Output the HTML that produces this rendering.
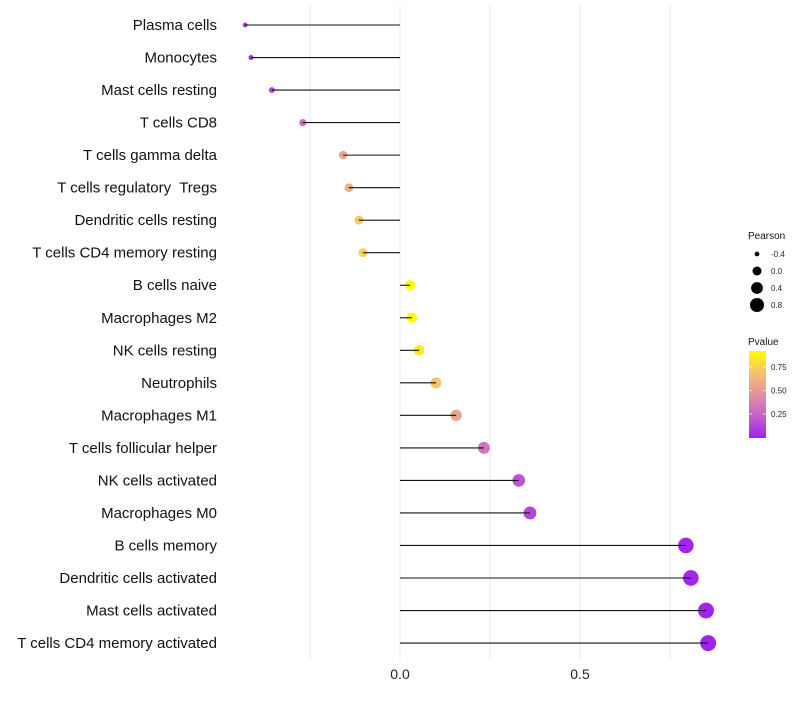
<!DOCTYPE html>
<html><head><meta charset="utf-8"><style>
body{margin:0;background:#fff;font-family:"Liberation Sans",sans-serif}
text{white-space:pre}
</style></head><body>
<svg id="c" width="800" height="700" xmlns="http://www.w3.org/2000/svg"></svg>
<script>
const categories=["Plasma cells","Monocytes","Mast cells resting","T cells CD8","T cells gamma delta","T cells regulatory  Tregs","Dendritic cells resting","T cells CD4 memory resting","B cells naive","Macrophages M2","NK cells resting","Neutrophils","Macrophages M1","T cells follicular helper","NK cells activated","Macrophages M0","B cells memory","Dendritic cells activated","Mast cells activated","T cells CD4 memory activated"];
const pearson=[-0.43,-0.414,-0.356,-0.27,-0.158,-0.142,-0.114,-0.103,0.028,0.033,0.053,0.1,0.156,0.233,0.33,0.361,0.794,0.808,0.85,0.856];
const pvalue=[0.04,0.06,0.12,0.3,0.55,0.6,0.72,0.75,0.91,0.9,0.84,0.7,0.55,0.32,0.18,0.13,0.02,0.02,0.01,0.01];
const xTicks=[0,0.5];
const xGrid=[-0.25,0.25,0.75];
const sizeLegend=[-0.4,0.0,0.4,0.8];
const colorTicks=[0.75,0.5,0.25];
const NS="http://www.w3.org/2000/svg";
const svg=document.getElementById('c');
const X=v=>400+v*360;
const Y=i=>25+i*32.53;
const R=v=>Math.sqrt(Math.max(1,25+45*v));
const stops=[[0,[160,32,240]],[0.25,[196,96,204]],[0.5,[226,146,160]],[0.75,[244,194,110]],[1,[255,255,0]]];
function col(p){let t=Math.min(1,Math.max(0,p/0.92));for(let k=1;k<stops.length;k++){if(t<=stops[k][0]){const a=stops[k-1],b=stops[k];const f=(t-a[0])/(b[0]-a[0]);const c=a[1].map((x,j)=>Math.round(x+(b[1][j]-x)*f));return `rgb(${c})`;}}return 'rgb(255,255,0)';}
function el(tag,attrs,parent){const e=document.createElementNS(NS,tag);for(const k in attrs)e.setAttribute(k,attrs[k]);(parent||svg).appendChild(e);return e;}
xGrid.concat(xTicks).forEach(v=>{const g=el('line',{x1:X(v),x2:X(v),y1:5,y2:660,stroke:'#ebebeb','stroke-width':1});

});
xTicks.forEach(v=>{const t=el('text',{x:X(v),y:679,'text-anchor':'middle','font-size':14,fill:'#222'});t.textContent=v.toFixed(1);

});
categories.forEach((c,i)=>{const y=Y(i);
const t=el('text',{x:217,y:y+5,'text-anchor':'end','font-size':15,fill:'#111'});t.textContent=c;


const d=el('circle',{cx:X(pearson[i]),cy:y,r:R(pearson[i]),fill:col(pvalue[i])});


const l=el('line',{x1:X(0),x2:X(pearson[i]),y1:y,y2:y,stroke:'#111','stroke-width':1.1});

});
const lt=el('text',{x:748,y:239,'font-size':10,fill:'#111'});lt.textContent='Pearson';


sizeLegend.forEach((v,i)=>{const y=254+i*17;
const c=el('circle',{cx:757,cy:y,r:R(v)*0.9,fill:'#000'});


const t=el('text',{x:771,y:y+3,'font-size':8,fill:'#222'});t.textContent=v.toFixed(1);

});
const ct=el('text',{x:748,y:345,'font-size':10,fill:'#111'});ct.textContent='Pvalue';


const defs=el('defs',{});const lg=el('linearGradient',{id:'g',x1:0,y1:1,x2:0,y2:0},defs);
stops.forEach(s=>el('stop',{offset:s[0],'stop-color':`rgb(${s[1]})`},lg));
const bar=el('rect',{x:749,y:351,width:17,height:87,fill:'url(#g)'});


colorTicks.forEach(v=>{const y=437.5-v*94;
el('line',{x1:749,x2:752,y1:y,y2:y,stroke:'#fff','stroke-width':0.7});el('line',{x1:763,x2:766,y1:y,y2:y,stroke:'#fff','stroke-width':0.7});
const t=el('text',{x:771,y:y+3,'font-size':8,fill:'#222'});t.textContent=v.toFixed(2);

});
</script>
</body></html>
